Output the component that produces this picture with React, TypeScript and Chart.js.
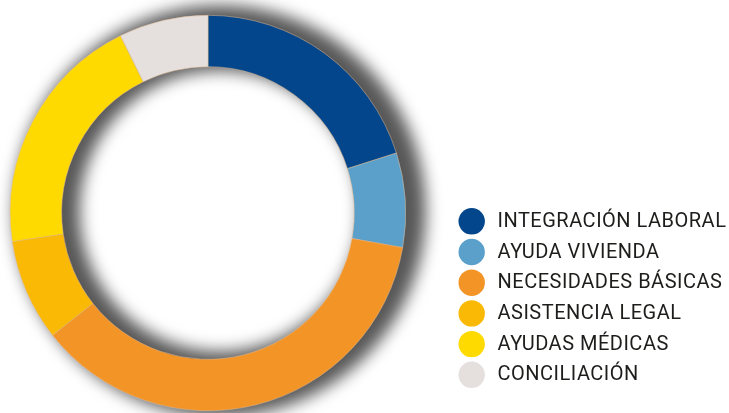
import React, { useEffect, useRef } from "react";
import { Chart, registerables } from "chart.js";

Chart.register(...registerables);

// Share of assistance by category (percent of total)
const categories = [
  "INTEGRACIÓN LABORAL",
  "AYUDA VIVIENDA",
  "NECESIDADES BÁSICAS",
  "ASISTENCIA LEGAL",
  "AYUDAS MÉDICAS",
  "CONCILIACIÓN",
];
const shares = [20.1, 7.7, 36.6, 8.3, 20.0, 7.3];
const colors = ["#03468B", "#5AA0CB", "#F29426", "#F9B904", "#FEDA00", "#E5E0DE"];

const WIDTH = 729;
const HEIGHT = 413;

// Soft drop shadow behind the ring: an annulus drawn far off-canvas so only its shadow lands.
const ringShadow = {
  id: "ringShadow",
  beforeDatasetsDraw(chart: any) {
    const arc = chart.getDatasetMeta(0).data[0];
    if (!arc) return;
    const { x, y, innerRadius, outerRadius } = arc.getProps(
      ["x", "y", "innerRadius", "outerRadius"],
      true
    );
    const ctx = chart.ctx as CanvasRenderingContext2D;
    const away = 3000;
    ctx.save();
    ctx.shadowColor = "rgba(0,0,0,0.66)";
    ctx.shadowBlur = 16;
    ctx.shadowOffsetX = away + 12;
    ctx.shadowOffsetY = -2;
    ctx.beginPath();
    ctx.arc(x - away, y, outerRadius + 8, 0, Math.PI * 2);
    ctx.arc(x - away, y, Math.max(innerRadius - 6, 0), 0, Math.PI * 2, true);
    ctx.fillStyle = "#000";
    ctx.fill("evenodd");
    ctx.restore();
  },
};

// Legend column on the right: coloured discs with upper-case labels.
const sideLegend = {
  id: "sideLegend",
  afterDraw(chart: any) {
    const ctx = chart.ctx as CanvasRenderingContext2D;
    const labels: string[] = chart.data.labels;
    const fills: string[] = chart.data.datasets[0].backgroundColor;
    const discX = 471.7;
    const textX = 497.5;
    const firstY = 221.3;
    const step = 30.7;
    ctx.save();
    ctx.font = "20px Roboto, 'Noto Sans', sans-serif";
    (ctx as any).letterSpacing = "0.5px";
    ctx.textAlign = "left";
    ctx.textBaseline = "alphabetic";
    labels.forEach((label, i) => {
      const cy = firstY + i * step;
      ctx.beginPath();
      ctx.arc(discX, cy, 13.2, 0, Math.PI * 2);
      ctx.fillStyle = fills[i];
      ctx.fill();
      ctx.fillStyle = "#1d1d1b";
      ctx.fillText(label, textX, cy + 5.5);
    });
    ctx.restore();
  },
};

export default function App() {
  const canvasRef = useRef<HTMLCanvasElement | null>(null);

  useEffect(() => {
    if (!canvasRef.current) return;
    const chart = new Chart(canvasRef.current, {
      type: "doughnut",
      data: {
        labels: categories,
        datasets: [
          {
            data: shares,
            backgroundColor: colors,
            borderColor: "#e6bd92",
            borderWidth: 0.5,
          },
        ],
      },
      options: {
        responsive: false,
        animation: false,
        cutout: "74%",
        layout: { padding: { left: 0, right: 313, top: 15, bottom: 2 } },
        plugins: {
          legend: { display: false },
          tooltip: { enabled: false },
        },
      },
      plugins: [ringShadow, sideLegend],
    });
    return () => chart.destroy();
  }, []);

  return (
    <div
      style={{
        position: "fixed",
        left: 0,
        top: 0,
        width: WIDTH,
        height: HEIGHT,
        background: "#ffffff",
      }}
    >
      <canvas ref={canvasRef} width={WIDTH} height={HEIGHT} />
    </div>
  );
}
